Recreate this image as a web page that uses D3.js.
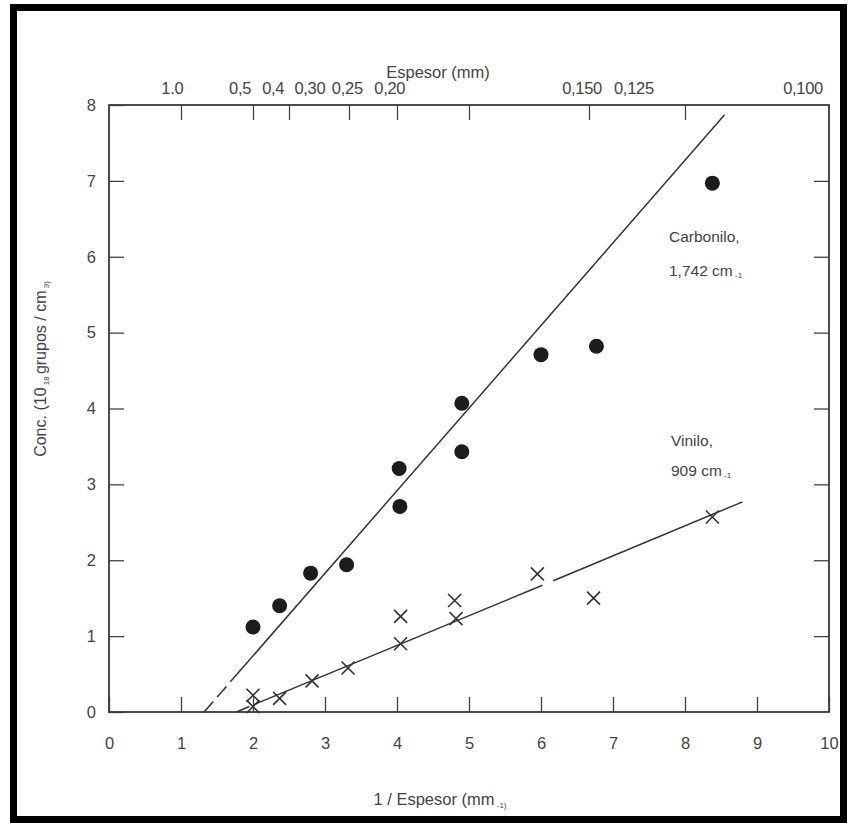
<!DOCTYPE html>
<meta charset="utf-8">
<script src="https://d3js.org/d3.v7.min.js"></script>
<body></body>
<script>

// carbonilo points (filled circles)
var carbX = [2.0, 2.37, 2.8, 3.3, 4.03, 4.04, 4.9, 4.9, 6.0, 6.77, 8.38];
var carbY = [1.12, 1.40, 1.83, 1.94, 3.21, 2.71, 4.07, 3.43, 4.71, 4.82, 6.97];

// vinilo points (crosses)
var vinX = [2.0, 2.0, 2.37, 2.82, 3.32, 4.05, 4.05, 4.8, 4.82, 5.95, 6.73, 8.38];
var vinY = [0.22, 0.07, 0.18, 0.41, 0.58, 0.90, 1.26, 1.47, 1.23, 1.82, 1.50, 2.57];

// fitted lines
var carbDash = [[1.32, 0], [1.78, 0.50]];
var carbSolid = [[[1.78, 0.50], [8.55, 7.87]]];
var vinDash = [[1.77, 0], [2.07, 0.12]];
var vinSolid = [[[2.07, 0.12], [6.02, 1.67]], [[6.17, 1.73], [8.8, 2.77]]];

// axes
var xTicks = [0, 1, 2, 3, 4, 5, 6, 7, 8, 9, 10];
var yTicks = [0, 1, 2, 3, 4, 5, 6, 7, 8];
var topThick = [1.0, 0.5, 0.4, 0.30, 0.25, 0.20, 0.150, 0.125, 0.100];
var topLabels = ["1.0", "0,5", "0,4", "0,30", "0,25", "0,20", "0,150", "0,125", "0,100"];
var topLabelAt = [0.88, 1.82, 2.28, 2.79, 3.31, 3.90, 6.57, 7.29, 9.64];

var W = 851, H = 823;
var svg = d3.select("body").append("svg").attr("width", W).attr("height", H);

svg.append("rect").attr("width", W).attr("height", H).attr("fill", "#fff");
svg.append("rect")
    .attr("x", 13.5).attr("y", 7.5).attr("width", 830).attr("height", 812)
    .attr("fill", "none").attr("stroke", "#000").attr("stroke-width", 7);

var x = d3.scaleLinear().domain([0, 10]).range([109, 829]);
var y = d3.scaleLinear().domain([0, 8]).range([712, 105]);

var txt = "#444";
var font = "'Liberation Sans', Arial, sans-serif";

function style(g, hideText) {
  g.select(".domain").remove();
  g.selectAll(".tick line").attr("stroke", "#444").attr("stroke-width", 1.3);
  g.selectAll(".tick text").attr("fill", txt).style("font", "16.5px " + font);
  if (hideText) g.selectAll(".tick text").remove();
}

svg.append("g").attr("transform", "translate(0,712)")
  .call(d3.axisBottom(x).tickValues(xTicks).tickSizeInner(-15).tickSizeOuter(0).tickPadding(25))
  .call(style);

svg.append("g").attr("transform", "translate(109,0)")
  .call(d3.axisLeft(y).tickValues(yTicks).tickSizeInner(-15).tickSizeOuter(0).tickPadding(13))
  .call(style);

svg.append("g").attr("transform", "translate(829,0)")
  .call(d3.axisRight(y).tickValues(yTicks.slice(1, 8)).tickSizeInner(-15).tickSizeOuter(0))
  .call(function(g) { style(g, true); });

svg.append("g").attr("transform", "translate(0,105)")
  .call(d3.axisTop(x).tickValues(topThick.map(function(t) { return 1 / t; }).slice(0, 8))
    .tickSizeInner(-15).tickSizeOuter(0))
  .call(function(g) { style(g, true); });

// frame
svg.append("rect")
    .attr("x", x(0)).attr("y", y(8)).attr("width", x(10) - x(0)).attr("height", y(0) - y(8))
    .attr("fill", "none").attr("stroke", "#3a3a3a").attr("stroke-width", 1.8);

// top labels
svg.selectAll(".toplab").data(topLabels).enter().append("text")
    .attr("x", function(d, i) { return x(topLabelAt[i]); })
    .attr("y", 94)
    .attr("text-anchor", "middle")
    .attr("fill", txt).style("font", "16.5px " + font)
    .style("letter-spacing", "-0.3px")
    .text(function(d) { return d; });

svg.append("text").attr("x", 438).attr("y", 78).attr("text-anchor", "middle")
    .attr("fill", txt).style("font", "16.5px " + font).text("Espesor (mm)");

// bottom title
var bt = svg.append("text").attr("x", 440).attr("y", 805).attr("text-anchor", "middle")
    .attr("fill", txt).style("font", "16.5px " + font);
bt.append("tspan").text("1 / Espesor (mm");
bt.append("tspan").attr("dy", 3).style("font-size", "8px").text(" -1)");

// y title
var yt = svg.append("text")
    .attr("transform", "translate(46,369) rotate(-90)")
    .attr("text-anchor", "middle")
    .attr("fill", txt).style("font", "16px " + font);
yt.append("tspan").text("Conc. (10");
yt.append("tspan").attr("dy", 3).style("font-size", "8px").text(" 18 ");
yt.append("tspan").attr("dy", -3).text("grupos / cm");
yt.append("tspan").attr("dy", 3).style("font-size", "8px").text(" 3)");

// lines
var line = d3.line().x(function(d) { return x(d[0]); }).y(function(d) { return y(d[1]); });

[carbDash, vinDash].forEach(function(seg) {
  svg.append("path").attr("d", line(seg)).attr("fill", "none")
    .attr("stroke", "#333").attr("stroke-width", 1.5).attr("stroke-dasharray", "14,6");
});
carbSolid.concat(vinSolid).forEach(function(seg) {
  svg.append("path").attr("d", line(seg)).attr("fill", "none")
    .attr("stroke", "#333").attr("stroke-width", 1.5);
});

// carbonilo points
svg.selectAll(".carb").data(carbX).enter().append("circle")
    .attr("cx", function(d) { return x(d); })
    .attr("cy", function(d, i) { return y(carbY[i]); })
    .attr("r", 7.5)
    .attr("fill", "#1c1c1c");

// vinilo crosses
svg.selectAll(".vin").data(vinX).enter().append("path")
    .attr("transform", function(d, i) { return "translate(" + x(d) + "," + y(vinY[i]) + ")"; })
    .attr("d", "M-6.5,-6.5L6.5,6.5M-6.5,6.5L6.5,-6.5")
    .attr("stroke", "#333").attr("stroke-width", 1.6).attr("fill", "none");

// annotations
function note(xp, yp, main, sup) {
  var t = svg.append("text").attr("x", xp).attr("y", yp)
      .attr("fill", txt).style("font", "15.5px " + font);
  t.append("tspan").text(main);
  if (sup) t.append("tspan").attr("dy", 2).style("font-size", "8px").text(" " + sup);
}
note(669, 242, "Carbonilo,");
note(669, 276, "1,742 cm", "-1");
note(671, 446, "Vinilo,");
note(671, 476, "909 cm", "-1");

</script>
<style>
body { margin: 0; }
</style>
